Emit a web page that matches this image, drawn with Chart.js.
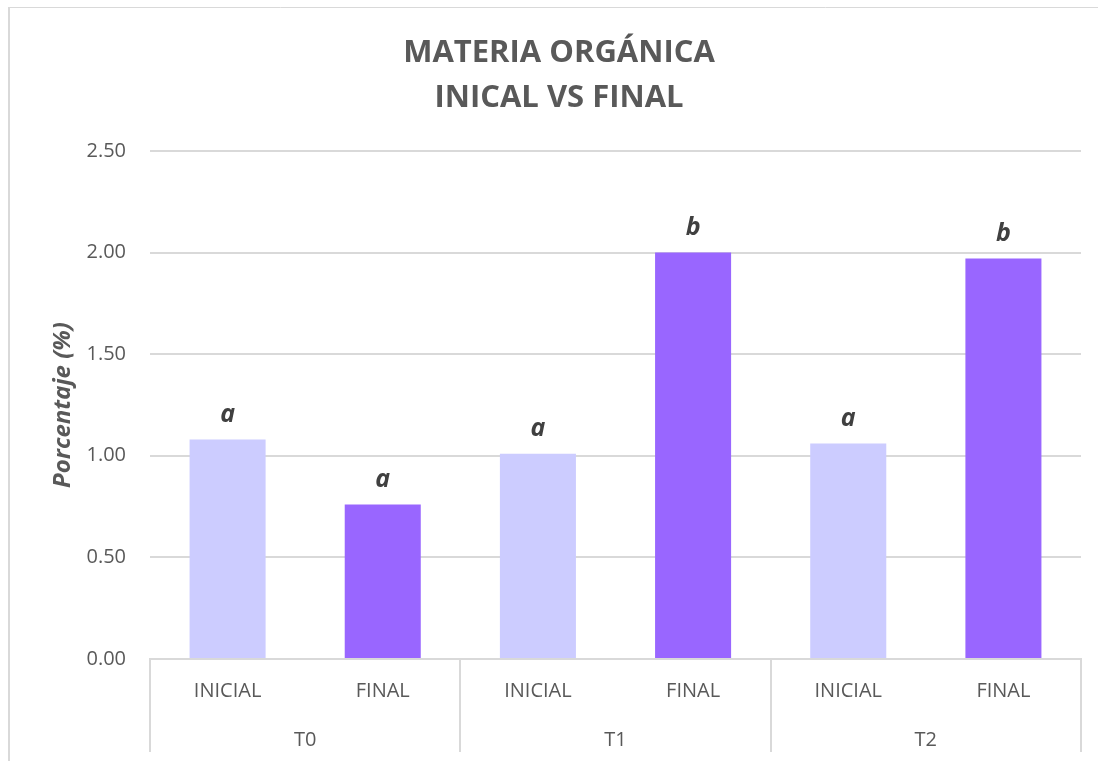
<!DOCTYPE html>
<html>
<head>
<meta charset="utf-8">
<script src="https://cdn.jsdelivr.net/npm/chart.js@4/dist/chart.umd.min.js"></script>
<style>
  html, body { margin: 0; padding: 0; background: #ffffff; }
  #wrap { width: 1098px; height: 761px; position: relative; }
</style>
</head>
<body>
<div id="wrap"><canvas id="chart" width="1098" height="761"></canvas></div>
<script>
// Materia orgánica (%) por tratamiento, muestreo inicial y final
const stages = ['INICIAL', 'FINAL', 'INICIAL', 'FINAL', 'INICIAL', 'FINAL'];
const treatments = ['T0', 'T1', 'T2'];
const organicMatter = [1.08, 0.76, 1.01, 2.00, 1.06, 1.97];
const significance = ['a', 'a', 'a', 'b', 'a', 'b'];
const barColors = ['#CCCCFF', '#9966FF', '#CCCCFF', '#9966FF', '#CCCCFF', '#9966FF'];

const textGray = '#595959';
const lineGray = '#d9d9d9';

// Marco exterior del gráfico
const framePlugin = {
  id: 'frame',
  beforeDraw(chart) {
    const ctx = chart.ctx;
    ctx.save();
    ctx.fillStyle = '#ffffff';
    ctx.fillRect(0, 0, chart.width, chart.height);
    ctx.strokeStyle = lineGray;
    ctx.lineWidth = 2;
    ctx.beginPath();
    ctx.moveTo(9, 7);
    ctx.lineTo(9, chart.height);
    ctx.stroke();
    ctx.lineWidth = 1;
    ctx.beginPath();
    ctx.moveTo(8, 7.5);
    ctx.lineTo(chart.width, 7.5);
    ctx.stroke();
    ctx.restore();
  }
};

// Separadores verticales entre los grupos de tratamiento
const groupSeparators = {
  id: 'groupSeparators',
  afterDraw(chart) {
    const x = chart.scales.x;
    const x2 = chart.scales.x2;
    const ctx = chart.ctx;
    const n = treatments.length;
    const groupWidth = (x.right - x.left) / n;
    ctx.save();
    ctx.strokeStyle = lineGray;
    ctx.lineWidth = 2;
    for (let i = 0; i <= n; i++) {
      const px = Math.round(x.left + i * groupWidth);
      ctx.beginPath();
      ctx.moveTo(px, x.top);
      ctx.lineTo(px, x2.bottom);
      ctx.stroke();
    }
    ctx.restore();
  }
};

// Letras de significancia sobre cada barra
const letterLabels = {
  id: 'letterLabels',
  afterDatasetsDraw(chart) {
    const ctx = chart.ctx;
    const meta = chart.getDatasetMeta(0);
    ctx.save();
    ctx.font = 'italic bold 25px "Open Sans"';
    ctx.fillStyle = '#404040';
    ctx.textAlign = 'center';
    ctx.textBaseline = 'alphabetic';
    meta.data.forEach((bar, i) => {
      ctx.fillText(significance[i], bar.x, bar.y - 18);
    });
    ctx.restore();
  }
};

new Chart(document.getElementById('chart'), {
  type: 'bar',
  data: {
    labels: stages,
    datasets: [{
      data: organicMatter,
      backgroundColor: barColors,
      borderWidth: 0,
      barPercentage: 0.49,
      categoryPercentage: 1.0
    }]
  },
  options: {
    responsive: false,
    animation: false,
    layout: { padding: { left: 37, right: 17, top: 0, bottom: 9 } },
    plugins: {
      legend: { display: false },
      tooltip: { enabled: false },
      title: {
        display: true,
        text: ['MATERIA ORGÁNICA', 'INICAL VS FINAL'],
        color: textGray,
        font: { family: 'Open Sans', size: 31, weight: 'bold', lineHeight: 1.45 },
        padding: { top: 31, bottom: 30 }
      }
    },
    scales: {
      y: {
        min: 0,
        max: 2.5,
        ticks: {
          stepSize: 0.5,
          padding: 24,
          color: textGray,
          font: { family: 'Open Sans', size: 20 },
          callback: (v) => Number(v).toFixed(2)
        },
        grid: { color: lineGray, lineWidth: 2, drawTicks: false },
        border: { display: false },
        title: {
          display: true,
          text: 'Porcentaje (%)',
          color: textGray,
          font: { family: 'Open Sans', size: 24, weight: 'bold', style: 'italic' },
          padding: { top: 12, bottom: 0 }
        },
        afterFit(scale) { scale.width = 113; }
      },
      x: {
        grid: { display: false, drawTicks: false },
        border: { display: true, color: lineGray, width: 2 },
        ticks: {
          padding: 20,
          color: textGray,
          font: { family: 'Open Sans', size: 20 }
        },
        afterFit(scale) { scale.height = 57; }
      },
      x2: {
        type: 'category',
        position: 'bottom',
        labels: treatments,
        offset: true,
        grid: { display: false, drawTicks: false },
        border: { display: false },
        ticks: {
          padding: 12,
          color: textGray,
          font: { family: 'Open Sans', size: 20 }
        },
        afterFit(scale) { scale.height = 36; }
      }
    }
  },
  plugins: [framePlugin, groupSeparators, letterLabels]
});
</script>
</body>
</html>
